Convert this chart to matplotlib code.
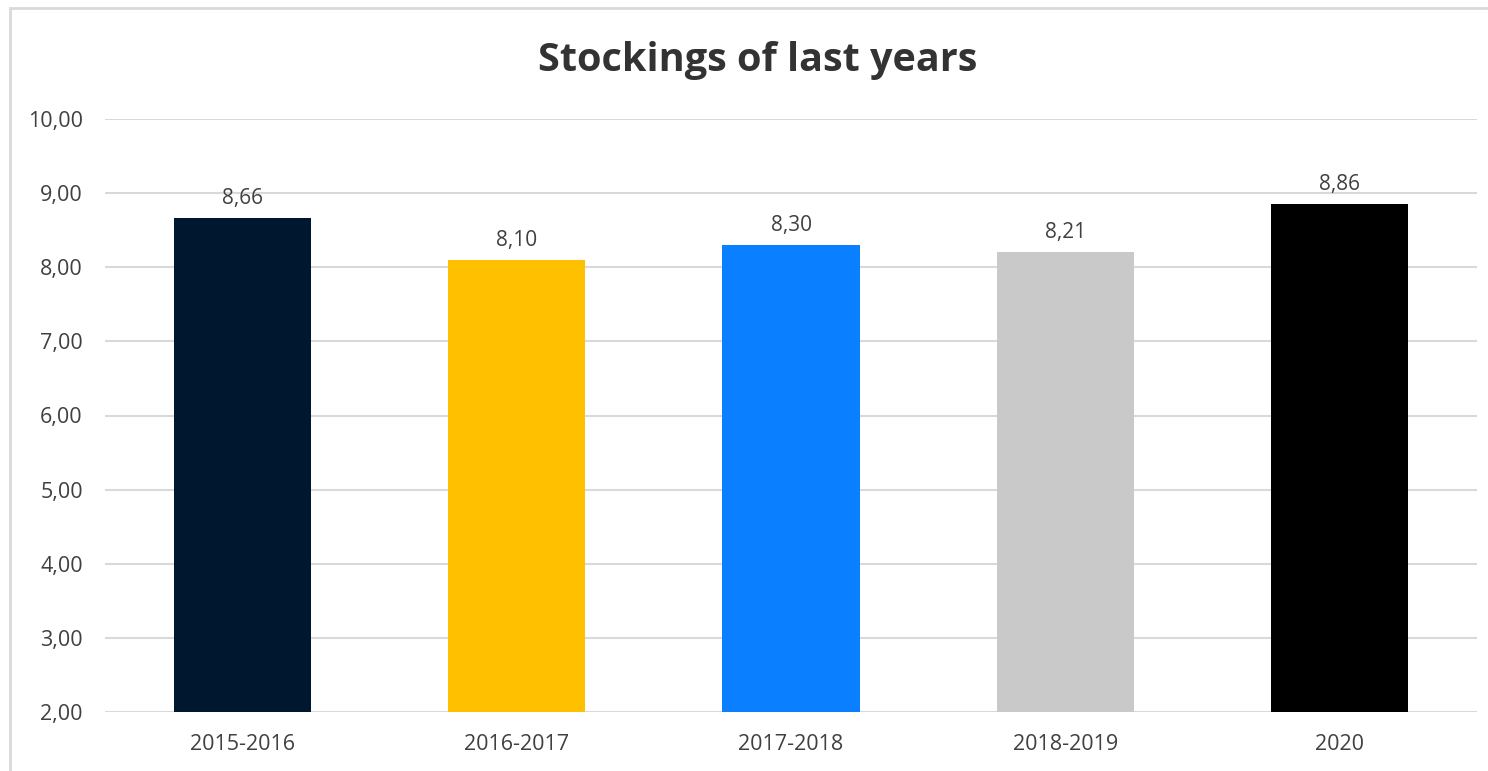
import matplotlib.pyplot as plt
from matplotlib.patches import Rectangle

categories = ['2015-2016', '2016-2017', '2017-2018', '2018-2019', '2020']
values = [8.66, 8.10, 8.30, 8.21, 8.86]
colors = ['#001730', '#FFC000', '#0A7FFF', '#C9C9C9', '#000000']
yticks = [2, 3, 4, 5, 6, 7, 8, 9, 10]

plt.rcParams['font.family'] = ['Open Sans', 'DejaVu Sans']
text_color = '#404040'

fig = plt.figure(figsize=(14.88, 7.71), dpi=100)
ax = fig.add_axes([105 / 1488, 1 - 712 / 771, 1372 / 1488, (712 - 119) / 771])

# chart frame, cut on right and bottom like the screenshot
fig.patches.append(Rectangle((10 / 1488, -0.05), 1.2, 1 - 8 / 771 + 0.05,
                             transform=fig.transFigure, fill=False,
                             edgecolor='#D9D9D9', linewidth=2, zorder=0))

x = range(len(categories))
bars = ax.bar(x, [v - 2 for v in values], bottom=2, width=0.5, color=colors, zorder=3)

for i, v in enumerate(values):
    ax.text(i, v + 0.12, f'{v:.2f}'.replace('.', ','), ha='center', va='bottom',
            fontsize=15, color=text_color)

ax.set_xlim(-0.5, len(categories) - 0.5)
ax.set_ylim(2, 10)
ax.set_yticks(yticks)
ax.set_yticklabels([f'{t:.2f}'.replace('.', ',') for t in yticks])
ax.set_xticks(list(x))
ax.set_xticklabels(categories)
ax.tick_params(axis='both', length=0, labelsize=15.5, colors=text_color)
ax.tick_params(axis='y', pad=16)
ax.tick_params(axis='x', pad=16)
ax.grid(axis='y', color='#D9D9D9', linewidth=1.5, zorder=0)
for s in ax.spines.values():
    s.set_visible(False)

fig.text(758 / 1488, 1 - 61 / 771, 'Stockings of last years', ha='center', va='center',
         fontsize=28.5, fontweight='bold', color='#333333')

fig.savefig('out.png', dpi=100)
